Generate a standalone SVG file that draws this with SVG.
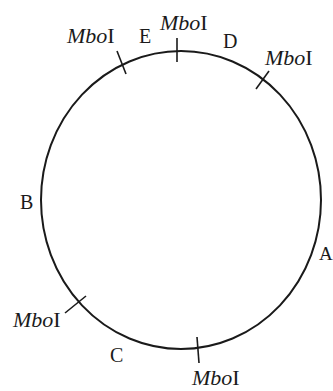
<svg xmlns="http://www.w3.org/2000/svg" width="333" height="391" viewBox="0 0 333 391">
<style>
text{font-family:"Liberation Serif","Times New Roman",serif;font-size:20px;fill:#1a1a1a}
.m{font-size:22px}
.i{font-style:italic}
.c{fill:none;stroke:#1a1a1a;stroke-width:2}
.t{stroke:#1a1a1a;stroke-width:1.6;fill:none}
</style>
<rect width="333" height="391" fill="#ffffff"/>
<g id="plasmid">
<ellipse class="c" cx="181" cy="200" rx="140" ry="149"/>
</g>
<g id="connectors">
<line class="t" x1="117" y1="51" x2="126" y2="74"/>
<line class="t" x1="177" y1="38" x2="177" y2="62"/>
<line class="t" x1="256" y1="89" x2="269" y2="71"/>
<line class="t" x1="65" y1="313" x2="86" y2="296"/>
<line class="t" x1="197" y1="337" x2="199" y2="363"/>
</g>
<g id="site1"><text class="m" x="67" y="43"><tspan class="i">Mbo</tspan>I</text></g>
<g id="site2"><text class="m" x="160" y="30"><tspan class="i">Mbo</tspan>I</text></g>
<g id="site3"><text class="m" x="265" y="65"><tspan class="i">Mbo</tspan>I</text></g>
<g id="site4"><text class="m" x="13" y="327"><tspan class="i">Mbo</tspan>I</text></g>
<g id="site5"><text class="m" x="192" y="385"><tspan class="i">Mbo</tspan>I</text></g>
<g id="labelE"><text x="139" y="43">E</text></g>
<g id="labelD"><text x="223" y="48">D</text></g>
<g id="labelB"><text x="20" y="209">B</text></g>
<g id="labelA"><text x="319" y="260" style="font-size:19px">A</text></g>
<g id="labelC"><text x="110" y="362">C</text></g>
</svg>
